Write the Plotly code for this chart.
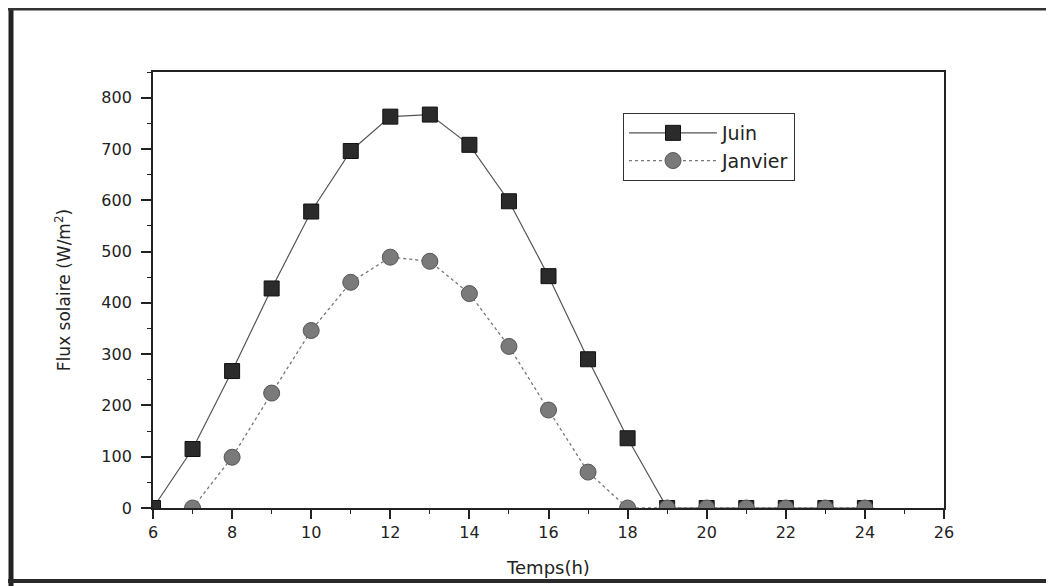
import plotly.graph_objects as go

hours = [6, 7, 8, 9, 10, 11, 12, 13, 14, 15, 16, 17, 18, 19, 20, 21, 22, 23, 24]
juin = [0, 115, 267, 428, 578, 696, 763, 767, 708, 598, 452, 290, 136, 0, 0, 0, 0, 0, 0]
hours_jan = [7, 8, 9, 10, 11, 12, 13, 14, 15, 16, 17, 18, 19, 20, 21, 22, 23, 24]
janvier = [0, 99, 224, 346, 440, 489, 481, 418, 315, 191, 70, 0, 0, 0, 0, 0, 0, 0]

FONT = "DejaVu Sans, Liberation Sans, Arial, sans-serif"
INK = "#222222"

fig = go.Figure()
fig.add_trace(go.Scatter(
    x=hours, y=juin, name="Juin", mode="lines+markers",
    line=dict(color="#555555", width=1.2),
    marker=dict(symbol="square", size=15, color="#2b2b2b", line=dict(color="#111111", width=1)),
))
fig.add_trace(go.Scatter(
    x=hours_jan, y=janvier, name="Janvier", mode="lines+markers",
    line=dict(color="#777777", width=1.3, dash="dot"),
    marker=dict(symbol="circle", size=16, color="#7a7a7a", line=dict(color="#555555", width=1)),
))

# page has an 8px body margin: figure origin sits at (8, 8) in the window
OFF = 8
W, H = 1054 - OFF, 586 - OFF
L, T = 153 - OFF, 72 - OFF
R = W - (944 - OFF)
B = H - (508 - OFF)
pw, ph = W - L - R, H - T - B

def px(x):
    return (x - OFF - L) / pw

def py(y):
    return (H - B - (y - OFF)) / ph

shapes = [
    dict(type="line", xref="paper", yref="paper", x0=px(11), x1=px(11), y0=py(8), y1=py(590),
         line=dict(color="#222222", width=5)),
    dict(type="line", xref="paper", yref="paper", x0=px(8), x1=px(1060), y0=py(9), y1=py(9),
         line=dict(color="#333333", width=3)),
    dict(type="line", xref="paper", yref="paper", x0=px(8), x1=px(1060), y0=py(581), y1=py(581),
         line=dict(color="#2a2a2a", width=4)),
]

fig.update_layout(
    width=W, height=H,
    margin=dict(l=L, r=R, t=T, b=B),
    paper_bgcolor="white", plot_bgcolor="white",
    font=dict(family=FONT, color=INK),
    shapes=shapes,
    showlegend=True,
    legend=dict(
        x=px(623), y=py(113), xanchor="left", yanchor="top",
        bordercolor="#333333", borderwidth=1, bgcolor="white",
        font=dict(size=19, family=FONT, color=INK),
        itemwidth=88, tracegroupgap=0,
    ),
    xaxis=dict(
        range=[6, 26], tickmode="linear", tick0=6, dtick=2,
        showline=True, linecolor=INK, linewidth=1.8, mirror=True,
        ticks="outside", ticklen=9, tickwidth=1.5, tickcolor=INK,
        minor=dict(ticks="outside", ticklen=4, tickwidth=1.3, dtick=1, tickcolor=INK, showgrid=False),
        showgrid=False, zeroline=False,
        tickfont=dict(size=16, family=FONT, color=INK),
        title=dict(text="Temps(h)", font=dict(size=18, family=FONT, color=INK), standoff=20),
    ),
    yaxis=dict(
        range=[0, 850], tickmode="linear", tick0=0, dtick=100,
        showline=True, linecolor=INK, linewidth=1.8, mirror=True,
        ticks="outside", ticklen=10, tickwidth=1.5, tickcolor=INK,
        ticklabelstandoff=6,
        minor=dict(ticks="outside", ticklen=4, tickwidth=1.3, dtick=50, tickcolor=INK, showgrid=False),
        showgrid=False, zeroline=False,
        tickfont=dict(size=16, family=FONT, color=INK),
        title=dict(text="Flux solaire (W/m<sup>2</sup>)", font=dict(size=17, family=FONT, color=INK), standoff=26),
    ),
)

fig.write_html("out.html")
